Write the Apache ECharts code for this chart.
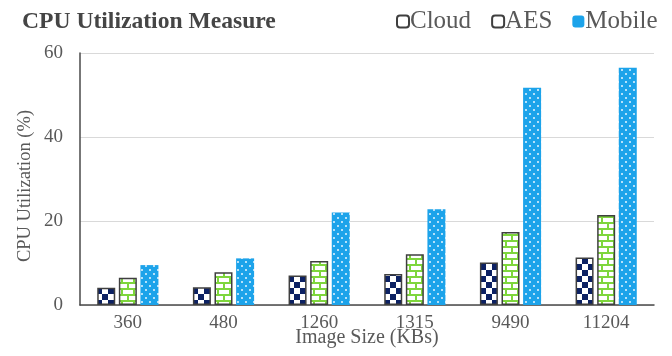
<!DOCTYPE html>
<html>
<head>
<meta charset="utf-8">
<script src="https://cdn.jsdelivr.net/npm/echarts@6/dist/echarts.min.js"></script>
<style>
  html, body { margin: 0; padding: 0; background: #ffffff; }
  #chart { width: 672px; height: 356px; }
</style>
</head>
<body>
<div id="chart"></div>
<script>
// Image sizes (KB) on the x axis
var imageSizes = ['360', '480', '1260', '1315', '9490', '11204'];
// CPU utilization (%) per method
var cloudValues = [4.1, 4.2, 7.0, 7.4, 10.1, 11.3];
var aesValues = [6.5, 7.8, 10.5, 12.1, 17.4, 21.4];
var mobileValues = [9.5, 11.1, 22.0, 22.8, 51.7, 56.5];
var seriesNames = ['Cloud', 'AES', 'Mobile'];

var NAVY = '#0c2163';
var GREEN = '#7ed63c';
var BLUE = '#1ca3ea';
var BORDER = '#3f3f3f';
var FONT = '"Liberation Serif", "Times New Roman", serif';

// Small canvas tiles used as repeating bar fills
function makeTile(w, h, draw) {
  var c = document.createElement('canvas');
  c.width = w; c.height = h;
  draw(c.getContext('2d'));
  return c;
}

var checkerTile = makeTile(12, 12, function (g) {
  g.fillStyle = '#ffffff'; g.fillRect(0, 0, 12, 12);
  g.fillStyle = NAVY;
  g.fillRect(0, 0, 6, 6);
  g.fillRect(6, 6, 6, 6);
});

var brickTile = makeTile(12, 12, function (g) {
  g.fillStyle = '#ffffff'; g.fillRect(0, 0, 12, 12);
  g.fillStyle = GREEN;
  g.fillRect(0, 0, 12, 2);
  g.fillRect(0, 6, 12, 2);
  g.fillRect(1, 0, 2, 6);
  g.fillRect(7, 6, 2, 6);
});

var dotTile = makeTile(8, 8, function (g) {
  g.fillStyle = BLUE; g.fillRect(0, 0, 8, 8);
  g.fillStyle = '#e8f6ff';
  g.beginPath(); g.arc(2, 2, 1, 0, Math.PI * 2); g.fill();
  g.beginPath(); g.arc(6, 6, 1, 0, Math.PI * 2); g.fill();
});

var chart = echarts.init(document.getElementById('chart'), null, { renderer: 'canvas' });

chart.setOption({
  animation: false,
  backgroundColor: '#ffffff',
  title: {
    text: 'CPU Utilization Measure',
    left: 17,
    top: 5,
    textStyle: { fontFamily: FONT, fontSize: 23.6, fontWeight: 'bold', color: '#454545' }
  },
  legend: {
    left: 391,
    top: 4,
    itemWidth: 12,
    itemHeight: 12,
    itemGap: 20,
    textStyle: { fontFamily: FONT, fontSize: 25, color: '#595959', padding: [0, 0, 0, -4] },
    data: [
      { name: 'Cloud', itemStyle: { color: '#ffffff', borderColor: BORDER, borderWidth: 2 } },
      { name: 'AES', itemStyle: { color: '#ffffff', borderColor: BORDER, borderWidth: 2 } },
      { name: 'Mobile', itemStyle: { color: BLUE, borderWidth: 0 } }
    ]
  },
  grid: { left: 80, right: 18, top: 53, bottom: 51, containLabel: false, outerBoundsMode: 'none' },
  xAxis: {
    type: 'category',
    data: imageSizes,
    name: 'Image Size (KBs)',
    nameLocation: 'middle',
    nameGap: 23,
    nameMoveOverlap: false,
    nameTextStyle: { fontFamily: FONT, fontSize: 20, color: '#595959' },
    axisLine: { lineStyle: { color: '#4a4a4a', width: 1.5 } },
    axisTick: { show: false },
    axisLabel: { fontFamily: FONT, fontSize: 19, color: '#595959', margin: 9 }
  },
  yAxis: {
    type: 'value',
    min: 0,
    max: 60,
    interval: 20,
    name: 'CPU Utilization (%)',
    nameLocation: 'middle',
    nameGap: 45,
    nameMoveOverlap: false,
    nameTextStyle: { fontFamily: FONT, fontSize: 18.5, color: '#595959', padding: [0, 0, 0, -14] },
    axisLine: { show: true, lineStyle: { color: '#4a4a4a', width: 1.5 } },
    axisTick: { show: false },
    axisLabel: { fontFamily: FONT, fontSize: 19, color: '#595959', margin: 17 },
    splitLine: { lineStyle: { color: '#d9d9d9', width: 1 } }
  },
  series: [
    {
      name: seriesNames[0],
      type: 'bar',
      data: cloudValues,
      barWidth: 18,
      barGap: '20%',
      itemStyle: { color: { image: checkerTile, repeat: 'repeat' }, borderColor: BORDER, borderWidth: 1.5 }
    },
    {
      name: seriesNames[1],
      type: 'bar',
      data: aesValues,
      barWidth: 18,
      barGap: '20%',
      itemStyle: { color: { image: brickTile, repeat: 'repeat' }, borderColor: BORDER, borderWidth: 1.5 }
    },
    {
      name: seriesNames[2],
      type: 'bar',
      data: mobileValues,
      barWidth: 18,
      barGap: '20%',
      itemStyle: { color: { image: dotTile, repeat: 'repeat' }, borderWidth: 0 }
    }
  ]
});
</script>
</body>
</html>
